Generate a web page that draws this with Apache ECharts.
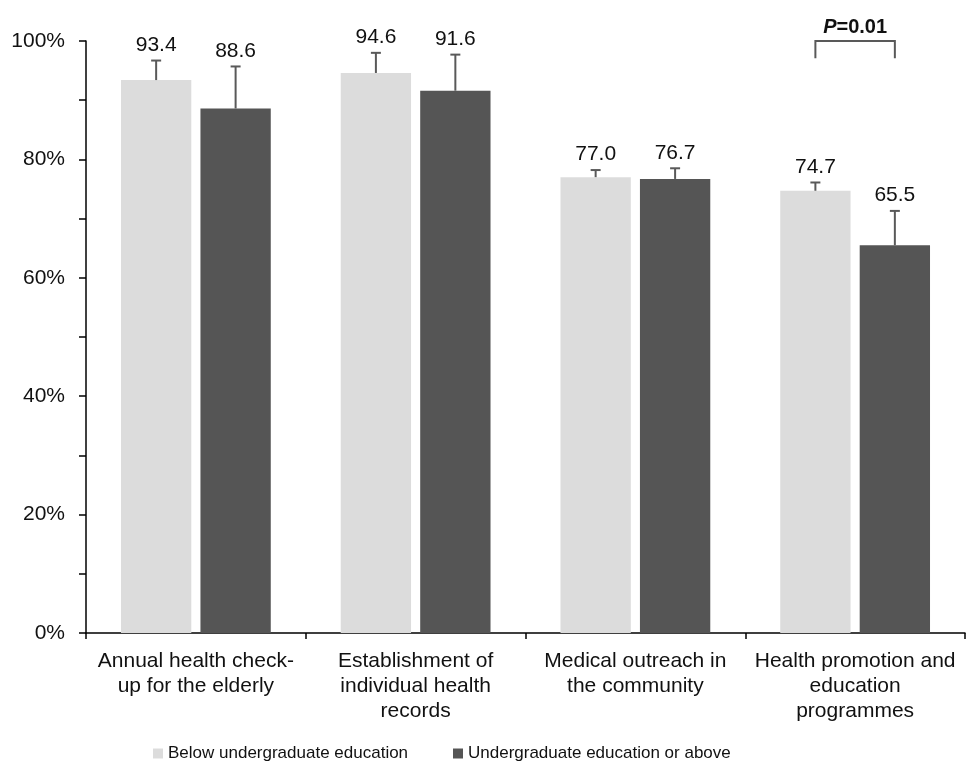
<!DOCTYPE html>
<html>
<head>
<meta charset="utf-8">
<script src="https://cdn.jsdelivr.net/npm/echarts@6/dist/echarts.min.js"></script>
<style>
html,body{margin:0;padding:0;background:#fff;}
#c{width:966px;height:776px;}
</style>
</head>
<body>
<div id="c"></div>
<script>
const categories = [
  'Annual health check-\nup for the elderly',
  'Establishment of\nindividual health\nrecords',
  'Medical outreach in\nthe community',
  'Health promotion and\neducation\nprogrammes'
];
const seriesNames = ['Below undergraduate education', 'Undergraduate education or above'];
const belowValues = [93.4, 94.6, 77.0, 74.7];
const aboveValues = [88.6, 91.6, 76.7, 65.5];
const belowErrors = [3.3, 3.4, 1.2, 1.4];
const aboveErrors = [7.1, 6.1, 1.8, 5.8];
const yTicks = [0, 20, 40, 60, 80, 100];
const pBracket = { category: 3, top: 100, bottom: 97.1, text: '0.01' };

const FONT = '"Liberation Sans", Arial, Helvetica, sans-serif';
const BAR_W = 0.32, BAR_GAP = 0.13;
const errData = [];
belowValues.forEach((v, i) => errData.push([i, v, belowErrors[i], -1]));
aboveValues.forEach((v, i) => errData.push([i, v, aboveErrors[i], 1]));

function renderErr(params, api) {
  const cat = api.value(0), v = api.value(1), e = api.value(2), side = api.value(3);
  const base = api.coord([cat, v]);
  const top = api.coord([cat, v + e]);
  const band = api.size([1, 0])[0];
  const bw = band * BAR_W, gap = bw * BAR_GAP;
  const x = base[0] + side * (bw + gap) / 2;
  const st = { stroke: '#595959', lineWidth: 2 };
  return {
    type: 'group',
    children: [
      { type: 'line', shape: { x1: x, y1: base[1], x2: x, y2: top[1] }, style: st },
      { type: 'line', shape: { x1: x - 5, y1: top[1], x2: x + 5, y2: top[1] }, style: st },
      { type: 'text', x: x, y: top[1] - 5, style: { text: v.toFixed(1), fill: '#111', font: '21px ' + FONT, align: 'center', verticalAlign: 'bottom' } }
    ]
  };
}

function renderBracket(params, api) {
  const cat = api.value(0), t = api.value(1), b = api.value(2);
  const c = api.coord([cat, t]);
  const cb = api.coord([cat, b]);
  const band = api.size([1, 0])[0];
  const bw = band * BAR_W, gap = bw * BAR_GAP;
  const off = (bw + gap) / 2;
  const x1 = c[0] - off, x2 = c[0] + off;
  const st = { stroke: '#595959', lineWidth: 2, fill: null };
  return {
    type: 'group',
    children: [
      { type: 'polyline', shape: { points: [[x1, cb[1]], [x1, c[1]], [x2, c[1]], [x2, cb[1]]] }, style: st },
      { type: 'text', x: c[0], y: c[1] - 4, style: {
          text: '{i|P}{b|=' + pBracket.text + '}', align: 'center', verticalAlign: 'bottom',
          rich: {
            i: { font: 'italic bold 20px ' + FONT, fill: '#111' },
            b: { font: 'bold 20px ' + FONT, fill: '#111' }
          }
        } }
    ]
  };
}

const chart = echarts.init(document.getElementById('c'), null, { renderer: 'canvas' });
chart.setOption({
  animation: false,
  backgroundColor: '#fff',
  textStyle: { fontFamily: FONT },
  grid: { left: 86, right: 1, top: 41, bottom: 143, containLabel: false },
  legend: [
    { data: [seriesNames[0]], left: 148, top: 740, icon: 'rect', itemWidth: 10, itemHeight: 10, itemGap: 4,
      textStyle: { fontSize: 17, color: '#111', fontFamily: FONT } },
    { data: [seriesNames[1]], left: 448, top: 740, icon: 'rect', itemWidth: 10, itemHeight: 10, itemGap: 4,
      textStyle: { fontSize: 17, color: '#111', fontFamily: FONT } }
  ],
  xAxis: {
    type: 'category',
    data: categories,
    axisLine: { lineStyle: { color: '#000', width: 1.5 } },
    axisTick: { show: true, length: 6, lineStyle: { color: '#000', width: 1.5 } },
    axisLabel: { interval: 0, fontSize: 21, lineHeight: 25, color: '#111', margin: 16, fontFamily: FONT }
  },
  yAxis: {
    type: 'value',
    min: yTicks[0], max: yTicks[yTicks.length - 1], interval: yTicks[1] - yTicks[0],
    axisLine: { show: true, lineStyle: { color: '#000', width: 1.5 } },
    axisTick: { show: true, length: 7, lineStyle: { color: '#000', width: 1.5 } },
    minorTick: { show: true, splitNumber: 2, length: 7, lineStyle: { color: '#000', width: 1.5 } },
    splitLine: { show: false },
    axisLabel: { fontSize: 21, color: '#111', margin: 21, formatter: v => v + '%', fontFamily: FONT }
  },
  series: [
    { name: seriesNames[0], type: 'bar', data: belowValues, barWidth: (BAR_W * 100) + '%', barGap: (BAR_GAP * 100) + '%',
      itemStyle: { color: '#dcdcdc' } },
    { name: seriesNames[1], type: 'bar', data: aboveValues, barWidth: (BAR_W * 100) + '%', barGap: (BAR_GAP * 100) + '%',
      itemStyle: { color: '#555555' } },
    { name: 'err', type: 'custom', renderItem: renderErr, data: errData, encode: { x: 0, y: 1 }, z: 5, silent: true },
    { name: 'p', type: 'custom', renderItem: renderBracket, data: [[pBracket.category, pBracket.top, pBracket.bottom]], encode: { x: 0, y: 1 }, z: 5, silent: true, clip: false }
  ]
});
</script>
</body>
</html>
